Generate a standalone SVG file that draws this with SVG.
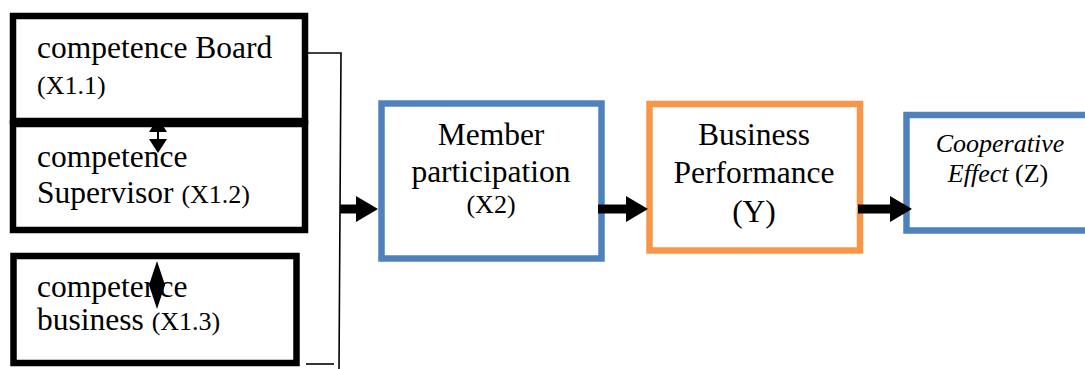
<svg xmlns="http://www.w3.org/2000/svg" width="1085" height="369" viewBox="0 0 1085 369">
<style>
.t{font-family:"Liberation Serif","Times New Roman",serif;fill:#000}
.big{font-size:31.5px}
.sm{font-size:26px}
.blk{fill:#fff;stroke:#000;stroke-width:6.5}
.blue{fill:#fff;stroke:#4F81BD;stroke-width:6.5}
.org{fill:#fff;stroke:#F79646;stroke-width:6.5}
.thin{fill:none;stroke:#000;stroke-width:1.6}
.fat{fill:none;stroke:#000;stroke-width:9}
.dbl{fill:none;stroke:#000;stroke-width:2}
</style>
<defs>
<marker id="ah" markerUnits="userSpaceOnUse" markerWidth="22" markerHeight="26" refX="4" refY="13" orient="auto">
<path d="M0,0 L22,13 L0,26 z" fill="#000"/>
</marker>
<marker id="sh" markerUnits="userSpaceOnUse" markerWidth="14" markerHeight="18" refX="0" refY="9" orient="auto-start-reverse">
<path d="M0,0 L14,9 L0,18 z" fill="#000"/>
</marker>
<marker id="lh" markerUnits="userSpaceOnUse" markerWidth="24" markerHeight="16" refX="2" refY="8" orient="auto-start-reverse">
<path d="M0,0 L24,8 L0,16 z" fill="#000"/>
</marker>
</defs>
<g id="node-board">
<rect class="blk" x="13" y="16" width="292" height="105"/>
<text class="t big" x="37" y="58">competence Board</text>
<text class="t sm" x="37" y="94">(X1.1)</text>
</g>
<g id="node-supervisor">
<rect class="blk" x="13" y="124" width="292" height="106"/>
<text class="t big" x="37" y="167">competence</text>
<text class="t" x="37" y="203"><tspan class="big">Supervisor </tspan><tspan class="sm">(X1.2)</tspan></text>
</g>
<g id="node-business">
<rect class="blk" x="13.5" y="256" width="283" height="107"/>
<text class="t big" x="37" y="297">competence</text>
<text class="t" x="37" y="330"><tspan class="big">business </tspan><tspan class="sm">(X1.3)</tspan></text>
</g>
<g id="node-participation">
<rect class="blue" x="381.5" y="103.5" width="220" height="155"/>
<text class="t big" x="491" y="145" text-anchor="middle">Member</text>
<text class="t big" x="491" y="182" text-anchor="middle">participation</text>
<text class="t sm" x="491" y="213" text-anchor="middle">(X2)</text>
</g>
<g id="node-performance">
<rect class="org" x="649.5" y="104" width="210.5" height="146.5"/>
<text class="t big" x="754" y="145" text-anchor="middle">Business</text>
<text class="t big" x="754" y="183" text-anchor="middle">Performance</text>
<text class="t big" x="754" y="222" text-anchor="middle">(Y)</text>
</g>
<g id="node-effect">
<rect class="blue" x="906.5" y="115" width="190" height="115.5"/>
<text class="t sm" x="1000" y="152" text-anchor="middle" font-style="italic">Cooperative</text>
<text class="t sm" x="998" y="182" text-anchor="middle"><tspan font-style="italic">Effect</tspan> (Z)</text>
</g>
<g id="connectors">
<path class="thin" d="M308,53 L341,53 L339,369"/>
<path class="thin" d="M306,364 L334,364"/>
<line class="fat" x1="340" y1="209" x2="360" y2="209" marker-end="url(#ah)"/>
<line class="fat" x1="598" y1="209" x2="630" y2="209" marker-end="url(#ah)"/>
<line class="fat" x1="858" y1="209" x2="894" y2="209" marker-end="url(#ah)"/>
<line class="dbl" x1="158" y1="132" x2="158" y2="139" marker-start="url(#sh)" marker-end="url(#sh)"/>
<line class="dbl" x1="157" y1="283" x2="157" y2="287" marker-start="url(#lh)" marker-end="url(#lh)"/>
</g>
</svg>
